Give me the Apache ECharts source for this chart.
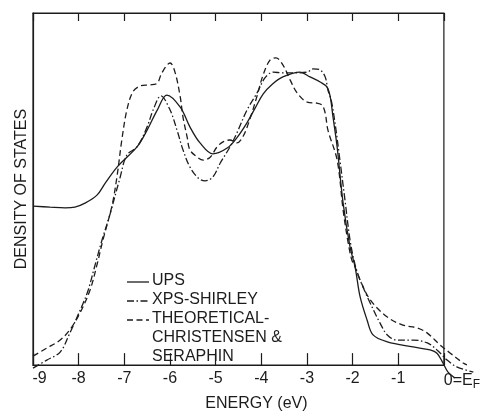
<!DOCTYPE html>
<html>
<head>
<meta charset="utf-8">
<script src="https://cdn.jsdelivr.net/npm/echarts@6/dist/echarts.min.js"></script>
<style>
html,body{margin:0;padding:0;background:#fff;}
#chart{width:483px;height:417px;}
</style>
</head>
<body>
<div id="chart"></div>
<script>
// Energy ticks (eV)
const xTicks = [-9, -8, -7, -6, -5, -4, -3, -2, -1, 0];
const tickLabels = ['-9', '-8', '-7', '-6', '-5', '-4', '-3', '-2', '-1', '0=E'];

// UPS (solid) — [energy eV, density (arb. units)]
const ups = [
  [-9.00, 47.1], [-8.63, 46.8], [-8.30, 46.6], [-8.09, 46.8], [-7.87, 47.9],
  [-7.61, 50.1], [-7.43, 53.4], [-7.15, 58.1], [-6.74, 63.3], [-6.52, 67.9],
  [-6.30, 73.4], [-6.09, 77.5], [-5.80, 74.2], [-5.59, 68.8], [-5.37, 64.4],
  [-5.09, 61.4], [-4.78, 63.0], [-4.57, 65.8], [-4.35, 69.9], [-4.17, 74.0],
  [-4.00, 77.8], [-3.80, 80.5], [-3.57, 82.5], [-3.20, 83.8], [-2.98, 82.5],
  [-2.76, 81.1], [-2.61, 79.7], [-2.54, 77.0], [-2.48, 71.5], [-2.39, 63.3],
  [-2.26, 47.9], [-2.11, 35.9], [-2.00, 30.4], [-1.89, 22.2], [-1.74, 15.9],
  [-1.61, 11.8], [-1.30, 9.9], [-0.74, 8.5], [-0.37, 7.7], [-0.22, 6.8],
  [-0.09, 4.1], [0.02, 1.6], [0.17, 0.0]
];

// XPS - Shirley (dash-dot)
const xps = [
  [-9.00, 2.7], [-8.70, 4.9], [-8.41, 7.1], [-8.20, 12.3], [-7.91, 20.5],
  [-7.80, 24.1], [-7.65, 31.0], [-7.50, 37.8], [-7.33, 44.7], [-7.11, 54.8],
  [-6.96, 61.1], [-6.74, 63.3], [-6.52, 68.8], [-6.39, 73.4], [-6.22, 77.3],
  [-6.02, 73.4], [-5.87, 67.9], [-5.74, 62.5], [-5.59, 57.8], [-5.41, 54.8],
  [-5.26, 54.0], [-5.09, 55.1], [-4.93, 58.9], [-4.72, 63.3], [-4.57, 67.1],
  [-4.35, 73.4], [-4.13, 78.1], [-3.96, 82.2], [-3.78, 83.8], [-3.57, 83.6],
  [-3.35, 83.6], [-3.04, 83.8], [-2.91, 84.7], [-2.76, 84.4], [-2.65, 82.5],
  [-2.59, 78.9], [-2.52, 76.2], [-2.43, 69.3], [-2.33, 59.7], [-2.22, 48.8],
  [-2.11, 37.8], [-2.00, 31.0], [-1.89, 26.8], [-1.67, 20.5], [-1.46, 15.1],
  [-1.30, 11.8], [-1.09, 10.4], [-0.74, 10.4], [-0.43, 9.6], [-0.22, 7.7],
  [0.00, 4.9], [0.22, 3.0], [0.57, 1.6]
];

// Theoretical - Christensen & Seraphin (dashed)
const theory = [
  [-9.00, 6.0], [-8.70, 8.2], [-8.41, 10.4], [-8.20, 13.2], [-7.98, 17.8],
  [-7.76, 24.1], [-7.61, 31.0], [-7.48, 37.8], [-7.28, 47.4], [-7.17, 55.6],
  [-7.07, 65.2], [-6.96, 73.4], [-6.83, 78.4], [-6.67, 80.0], [-6.46, 80.3],
  [-6.30, 80.8], [-6.20, 83.6], [-6.02, 86.3], [-5.91, 83.6], [-5.80, 77.0],
  [-5.74, 71.5], [-5.65, 66.0], [-5.59, 62.5], [-5.43, 60.5], [-5.30, 59.7],
  [-5.15, 60.5], [-5.00, 63.3], [-4.87, 64.7], [-4.72, 65.2], [-4.57, 64.4],
  [-4.43, 66.3], [-4.28, 71.2], [-4.13, 77.3], [-4.00, 83.0], [-3.85, 87.1],
  [-3.72, 87.7], [-3.57, 85.8], [-3.41, 81.6], [-3.26, 78.1], [-3.04, 75.6],
  [-2.83, 75.3], [-2.72, 74.8], [-2.65, 72.6], [-2.59, 67.9], [-2.39, 59.7],
  [-2.26, 46.0], [-2.15, 37.0], [-2.07, 32.3], [-2.00, 30.4], [-1.89, 26.8],
  [-1.67, 21.4], [-1.30, 16.7], [-0.96, 14.5], [-0.65, 13.7], [-0.43, 12.3],
  [-0.15, 9.0], [0.07, 6.8], [0.35, 4.1], [0.43, 3.6]
];

const legendNames = ['UPS', 'XPS-SHIRLEY', 'THEORETICAL-', 'CHRISTENSEN &', 'SERAPHIN'];

// Frame spans -9..0 eV; the curves run a little past E_F (to X_MAX)
const X_MIN = -9, X_FRAME = 0, X_MAX = 0.78;
const Y_MIN = 0, Y_MAX = 100;

const FONT = '"Liberation Sans", Arial, sans-serif';
const INK = '#1c1c1c';

const chart = echarts.init(document.getElementById('chart'), null, {renderer: 'canvas'});

function lineSeries(name, data, dash) {
  return {
    name: name,
    type: 'line',
    xAxisIndex: 0, yAxisIndex: 0,
    data: data,
    smooth: 0.35,
    symbol: 'none',
    clip: false,
    lineStyle: {color: INK, width: 1.3, type: dash},
    z: 3
  };
}

const legendRows = [281, 300, 319, 338, 357];
const legendGraphics = [];
const legendDash = ['solid', [7, 2.5, 1.5, 2.5], [6, 3.5]];
legendDash.forEach((d, i) => {
  legendGraphics.push({
    type: 'line',
    shape: {x1: 127, y1: legendRows[i] + 1, x2: 149, y2: legendRows[i] + 1},
    style: {stroke: INK, lineWidth: 1.3, lineDash: d === 'solid' ? null : d}
  });
});
legendNames.forEach((t, i) => {
  legendGraphics.push({
    type: 'text',
    x: 152, y: legendRows[i],
    style: {text: t, font: '16px ' + FONT, fill: INK, textVerticalAlign: 'middle', verticalAlign: 'middle'}
  });
});

const hidden = {show: false};

const option = {
  backgroundColor: '#fff',
  animation: false,
  grid: [
    // data grid: runs past E_F to the right edge
    {left: 33, right: 0, top: 13, bottom: 39, show: false},
    // frame grid: -9 .. 0 eV
    {left: 33, right: 36, top: 13, bottom: 39, show: true, borderColor: INK, borderWidth: 1.2, backgroundColor: 'transparent'}
  ],
  xAxis: [{
    gridIndex: 0, type: 'value', min: X_MIN, max: X_MAX,
    axisLine: hidden, axisTick: hidden, axisLabel: hidden, splitLine: hidden
  }, {
    gridIndex: 1, type: 'value', min: X_MIN, max: X_FRAME, interval: 1,
    position: 'bottom',
    axisLine: {show: true, onZero: false, lineStyle: {color: INK, width: 1.2}},
    axisTick: {show: true, inside: true, length: 12, lineStyle: {color: INK, width: 1.2}},
    splitLine: hidden,
    axisLabel: {
      margin: 5,
      color: INK,
      fontFamily: FONT,
      fontSize: 16,
      formatter: function (v) {
        const i = xTicks.indexOf(v);
        if (i < 0) return '';
        const t = tickLabels[i];
        if (v === 0) return '{pad|}{m|' + t + '}{s|F}';
        if (v === -9) return '{padL|}{m|' + t + '}';
        return '{m|' + t + '}';
      },
      rich: {
        m: {fontSize: 16, fontFamily: FONT, color: INK},
        s: {fontSize: 12, fontFamily: FONT, color: INK, padding: [9, 0, 0, 0]},
        pad: {width: 36},
        padL: {width: 13}
      }
    },
    name: 'ENERGY (eV)',
    nameLocation: 'middle',
    nameGap: 30,
    nameTextStyle: {fontSize: 16, fontFamily: FONT, color: INK, padding: [0, 0, 0, 36]}
  }, {
    gridIndex: 1, type: 'value', min: X_MIN, max: X_FRAME, interval: 1,
    position: 'top',
    axisLine: {show: true, onZero: false, lineStyle: {color: INK, width: 1.2}},
    axisTick: {show: true, inside: true, length: 8, lineStyle: {color: INK, width: 1.2}},
    axisLabel: hidden,
    splitLine: hidden
  }],
  yAxis: [{
    gridIndex: 0, type: 'value', min: Y_MIN, max: Y_MAX,
    axisLine: hidden, axisTick: hidden, axisLabel: hidden, splitLine: hidden
  }, {
    gridIndex: 1, type: 'value', min: Y_MIN, max: Y_MAX,
    axisLine: {show: true, onZero: false, lineStyle: {color: INK, width: 1.2}},
    axisTick: hidden,
    axisLabel: hidden,
    splitLine: hidden,
    name: 'DENSITY OF STATES',
    nameLocation: 'middle',
    nameGap: 3,
    nameTextStyle: {fontSize: 16, fontFamily: FONT, color: INK}
  }],
  series: [
    lineSeries('UPS', ups, 'solid'),
    lineSeries('XPS-SHIRLEY', xps, [7, 2.5, 1.5, 2.5]),
    lineSeries('THEORETICAL- CHRISTENSEN & SERAPHIN', theory, [6, 3.5])
  ],
  graphic: legendGraphics
};
chart.setOption(option);
</script>
</body>
</html>
